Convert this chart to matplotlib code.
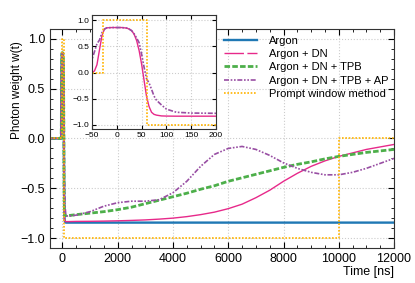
import matplotlib
matplotlib.use("Agg")
import matplotlib.pyplot as plt
from matplotlib.lines import Line2D
from matplotlib.ticker import MultipleLocator

# time grid [ns]: prompt part then late part
t_fast = [-450, -60, -55, -50, -45, -40, -35, -30, -25, -20, -10, 0, 10, 20, 25,
          30, 35, 40, 45, 50, 55, 60, 65, 70, 75, 80, 90, 100, 120, 150, 200]
t_slow = [500, 1000, 1500, 2000, 2500, 3000, 3500, 4000, 4500, 5000, 5500, 6000,
          6500, 7000, 7500, 8000, 8500, 9000, 9500, 10000, 10500, 11000, 11500, 12000]

argon_fast = [0, 0, 0, 0, 0.03, 0.15, 0.43, 0.70, 0.83, 0.855, 0.86, 0.86, 0.86, 0.85, 0.83,
              0.80, 0.73, 0.61, 0.42, 0.16, -0.15, -0.46, -0.65, -0.76, -0.80, -0.82, -0.835,
              -0.84, -0.845, -0.845, -0.845]
argon_slow = [-0.845, -0.845, -0.845, -0.845, -0.845, -0.845, -0.845, -0.845, -0.845,
              -0.845, -0.845, -0.845, -0.845, -0.845, -0.845, -0.845, -0.845, -0.845,
              -0.845, -0.845, -0.845, -0.845, -0.845, -0.845]

dn_fast = [0, 0, 0, 0, 0.03, 0.15, 0.43, 0.70, 0.83, 0.855, 0.86, 0.86, 0.86, 0.85, 0.83,
           0.80, 0.73, 0.61, 0.42, 0.16, -0.15, -0.46, -0.65, -0.76, -0.80, -0.815, -0.83,
           -0.833, -0.835, -0.835, -0.835]
dn_slow = [-0.833, -0.832, -0.830, -0.827, -0.823, -0.818, -0.81, -0.80, -0.785, -0.765,
           -0.74, -0.705, -0.66, -0.595, -0.52, -0.43, -0.35, -0.28, -0.225, -0.18,
           -0.145, -0.11, -0.085, -0.06]

tpb_fast = [0, 0, 0, 0, 0.03, 0.15, 0.43, 0.70, 0.83, 0.855, 0.86, 0.86, 0.86, 0.85, 0.83,
            0.80, 0.73, 0.61, 0.42, 0.16, -0.15, -0.45, -0.63, -0.72, -0.75, -0.77, -0.775,
            -0.775, -0.775, -0.775, -0.775]
tpb_slow = [-0.765, -0.75, -0.735, -0.715, -0.69, -0.655, -0.62, -0.585, -0.55, -0.51,
            -0.475, -0.43, -0.395, -0.36, -0.325, -0.29, -0.26, -0.235, -0.205, -0.18,
            -0.16, -0.14, -0.125, -0.11]

ap_fast = [0, 0, 0.1, 0.25, 0.40, 0.55, 0.62, 0.76, 0.83, 0.855, 0.86, 0.86, 0.86, 0.85,
           0.83, 0.80, 0.74, 0.66, 0.57, 0.35, 0.10, -0.12, -0.20, -0.32, -0.45, -0.53,
           -0.62, -0.70, -0.76, -0.775, -0.78]
ap_slow = [-0.77, -0.735, -0.68, -0.645, -0.63, -0.63, -0.615, -0.545, -0.43, -0.28,
           -0.16, -0.10, -0.08, -0.11, -0.17, -0.245, -0.30, -0.34, -0.365, -0.365,
           -0.34, -0.30, -0.25, -0.20]

prompt_t = [-450, -28, -28, 61, 61, 10000, 10000, 12000]
prompt_w = [0, 0, 1, 1, -1, -1, 0, 0]

labels = ["Argon", "Argon + DN", "Argon + DN + TPB", "Argon + DN + TPB + AP",
          "Prompt window method"]
colors = ["#1f78b4", "#e7298a", "#4daf4a", "#984ea3", "#ffb300"]


def draw_curves(ax, inset=False):
    t = t_fast + t_slow
    if not inset:
        ax.plot(t, argon_fast + argon_slow, color=colors[0], lw=1.7)
    ax.plot(t, dn_fast + dn_slow, color=colors[1], lw=1.0)
    if not inset:
        ax.plot(t, tpb_fast + tpb_slow, color=colors[2], lw=2.0, dashes=(2, 0.8))
    ax.plot(t, ap_fast + ap_slow, color=colors[3], lw=1.2, dashes=(3, 1, 1, 1, 1, 1))
    ax.plot(prompt_t, prompt_w, color=colors[4], lw=1.2, dashes=(1, 1))


def style_axes(ax, size):
    ax.tick_params(which="both", direction="in", top=True, right=True, labelsize=size)
    ax.tick_params(which="major", length=4)
    ax.tick_params(which="minor", length=2)
    ax.grid(True, which="major", ls=":", color="#cccccc", lw=0.8)
    for s in ax.spines.values():
        s.set_color("#333333")


def main():
    plt.rcParams["font.family"] = ["Liberation Sans", "DejaVu Sans"]
    fig = plt.figure(figsize=(4.15, 2.83), dpi=100)

    ax = fig.add_axes([0.1205, 0.1237, 0.829, 0.774])
    draw_curves(ax)
    ax.set_xlim(-450, 12000)
    ax.set_ylim(-1.1, 1.1)
    ax.xaxis.set_major_locator(MultipleLocator(2000))
    ax.xaxis.set_minor_locator(MultipleLocator(500))
    ax.yaxis.set_major_locator(MultipleLocator(0.5))
    ax.yaxis.set_minor_locator(MultipleLocator(0.1))
    style_axes(ax, 9)
    ax.set_xlabel("Time [ns]", fontsize=9, loc="right", labelpad=1)
    ax.set_ylabel("Photon weight w(t)", fontsize=8.5)
    ax.yaxis.set_label_coords(-0.079, 0.72)

    handles = [
        Line2D([], [], color=colors[0], lw=1.7),
        Line2D([], [], color=colors[1], lw=1.0, dashes=(14, 2.5)),
        Line2D([], [], color=colors[2], lw=2.0, dashes=(2, 0.8)),
        Line2D([], [], color=colors[3], lw=1.2, dashes=(3, 1, 1, 1, 1, 1)),
        Line2D([], [], color=colors[4], lw=1.2, dashes=(1, 1)),
    ]
    ax.legend(handles, labels, loc="upper left", bbox_to_anchor=(0.506, 0.97),
              frameon=False, fontsize=8, borderpad=0, borderaxespad=0,
              handlelength=3.0, handletextpad=1.0, labelspacing=0.3)

    ins = fig.add_axes([0.2217, 0.5442, 0.2988, 0.4028])
    draw_curves(ins, inset=True)
    ins.set_xlim(-50, 200)
    ins.set_ylim(-1.08, 1.1)
    ins.xaxis.set_major_locator(MultipleLocator(50))
    ins.yaxis.set_major_locator(MultipleLocator(0.5))
    style_axes(ins, 6)
    ins.tick_params(which="major", length=3, pad=2)

    fig.savefig("out.png", dpi=100)


if __name__ == "__main__":
    main()
